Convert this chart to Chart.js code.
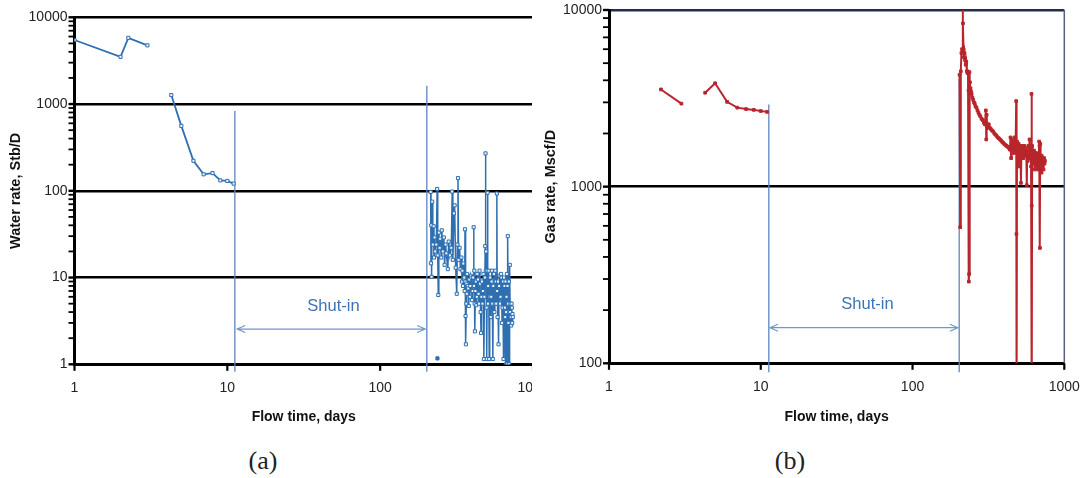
<!DOCTYPE html>
<html>
<head>
<meta charset="utf-8">
<script src="https://cdn.jsdelivr.net/npm/chart.js@4.4.1/dist/chart.umd.min.js"></script>
<style>
  body { margin: 0; background: #fff; width: 1081px; height: 478px; position: relative; overflow: hidden; }
  #wrapA { position: absolute; left: 0; top: 0; width: 532px; height: 440px; overflow: hidden; }
  #wrapB { position: absolute; left: 536px; top: 0; width: 545px; height: 440px; }
  .cap { position: absolute; top: 446px; font-family: "Liberation Serif", "Times New Roman", serif; font-size: 26px; line-height: 30px; color: #222; transform: translateX(-50%); }
</style>
</head>
<body>
<div id="wrapA"><canvas id="chartA" width="560" height="440" style="width:560px;height:440px"></canvas></div>
<div id="wrapB"><canvas id="chartB" width="545" height="440" style="width:545px;height:440px"></canvas></div>
<div class="cap" style="left:263px">(a)</div>
<div class="cap" style="left:790px">(b)</div>
<script>
// (a) water rate, Stb/D vs flow time, days
const waterDays1 = [1, 2, 2.25, 3];
const waterRate1 = [5470, 3500, 5800, 4750];
const waterDays2 = [4.3, 5, 6, 7, 8, 9, 10, 11];
const waterRate2 = [1270, 560, 222, 155, 160, 132, 130, 121];
const waterDays3 = [214,215,216,217,219,221,224,225,227,229,233,236,238,240,242,245,247,251,253,257,
  261,264,268,271,277,281,286,292,296,299,304,307,312,317,320,323,326,331,335,
  340,343,345,348,350,353,355,357,359,361,362,364,366,367,369,371,374,377,380,383,
  386,389,392,395,399,403,406,409,411,413,415,417,420,423,426,429,432,436,440,443,
  447,450,454,457,460,463,467,470,474,477,481,484,487,489,491,494,497,499,502,504,
  507,509,513,517,521,525,529,533,536,538,542,546,550,555,559,563,567,571,575,580,
  583,586,590,595,600,604,608,613,618,623,627,632,636,641,646,651,655,658,661,664,
  668,671,675,678,681,684,688,691,695,698,701,705,709,712,716,720,724,727,731,734,738];
const waterRate3 = [97,14.6,40,10.2,75,24,39,17,29,20,24,105,18,6.3,33,22,28,17,35,20,
  29,14,24,19,12.5,26,18,22,98,16,55,68,13,6.5,24,140,16,22,12.5,
  17,9,12,8,14.5,9.5,10,7,36,9,3.6,1.7,5,8.5,6.5,11,8,7.5,4.7,9.5,
  6,8,10.5,10,5.5,7,10,38,8,12,5,2.4,7,9,4.8,6,11,9.5,6.5,5,
  12,8.5,4,2.3,6,9,5,7,11,1.15,6,10,23,270,12,20,4.5,1.15,12,95,
  5,8,12,1.15,6,10,3.5,6,9,12,5,1.15,8,11,4,5,12,9,5,93,
  7,3.5,9,1.7,8,10.5,5,6,11,10,3,4.5,9,1.15,10,8,4.5,3.5,9,1.0,
  4,6,11,1.0,8,30,5,3,9,1.0,4,14,4,5,3.5,2.8,5,4.5,3,3.8,3.5];
const waterLoneDay = [237];
const waterLoneRate = [1.17];

// (b) gas rate, Mscf/D vs flow time, days
const gasDays1 = [2.2, 3];
const gasRate1 = [3550, 2950];
const gasDays2 = [4.3, 5, 6, 7, 8, 9, 10, 11];
const gasRate2 = [3400, 3850, 3020, 2800, 2750, 2720, 2680, 2650];
const gasDays3 = [204,206,208,210,212,214,215,217,218,220,222,224,226,228,230,232,234,235,236,237,
  239,241,243,245,248,251,254,257,260,264,268,272,276,280,285,290,295,300,304,306,
  308,310,314,318,323,328,334,340,346,352,358,364,370,377,384,390,396,403,410,417,
  424,431,438,442,446,450,455,461,466,470,474,478,482,484,486,488,492,497,500,505,
  510,514,518,522,527,532,537,542,547,552,557,562,566,570,575,580,585,590,595,600,
  604,608,610,612,614,618,622,627,632,637,642,648,653,658,663,668,673,678,683,687,
  691,694,698,703,708,713,718,724,730,736,741,745];
const gasRate3 = [4300,590,4500,5700,6000,12000,8400,6000,5400,5700,5200,4900,5100,4500,4400,4450,3500,290,320,4450,
  3900,3600,3450,3350,3200,3100,3000,2950,2850,2800,2700,2620,2550,2500,2420,2380,2300,2250,2700,1850,
  2550,2200,2180,2250,2150,2120,2080,2050,2000,1970,1940,1900,1880,1850,1820,1790,1770,1740,1720,1700,
  1680,1660,1620,1900,1450,1850,1650,1800,1550,1900,1600,1750,3050,540,50,1800,1650,1300,1750,1600,
  1500,1700,1050,1650,1550,1700,1450,1600,1700,1500,1650,1550,1020,1600,1400,1700,1500,1850,1450,1600,
  1300,3350,780,50,1700,1450,1550,1350,1600,1250,1500,1400,1550,1300,1450,1250,1500,1350,1800,1700,
  450,1750,1350,1500,1200,1450,1350,1400,1250,1450,1350,1400];

// shut-in markers
const markerDaysA = [11.2, 202];
const markerTopsA = [830, 1620];
const markerFloorA = 0.82;
const markerDaysB = [11.3, 203];
const markerTopsB = [2920, 4050];
const markerFloorB = 89;

const xMajors = [1, 10, 100, 1000];
const yMajorsA = [1, 10, 100, 1000, 10000];
const yMajorsB = [100, 1000, 10000];
const minorSteps = [2, 3, 4, 5, 6, 7, 8, 9];

const FONT = '"Liberation Sans", Arial, Helvetica, sans-serif';
const BLUE = '#2d6fb1';
const RED = '#b8262c';
const LINE_BLUE = '#5b86be';
const CLEAR = 'rgba(0,0,0,0)';

const pts = (xs, ys) => xs.map((x, i) => ({x: x, y: ys[i]}));
const isDecade = v => Math.abs(Math.log10(v) - Math.round(Math.log10(v))) < 1e-9;

function logTicks(majors) {
  const out = [];
  majors.forEach((m, i) => {
    out.push({value: m});
    if (i < majors.length - 1) minorSteps.forEach(s => out.push({value: m * s}));
  });
  return out;
}

// outside tick marks, placed through the chart's own scales
const tickMarksPlugin = {
  id: 'tickMarks',
  afterDraw(chart, args, o) {
    const {ctx, scales: {x, y}, chartArea} = chart;
    ctx.save();
    ctx.strokeStyle = '#000';
    logTicks(o.yMajors).forEach(t => {
      const py = y.getPixelForValue(t.value);
      ctx.lineWidth = isDecade(t.value) ? 2.4 : 1.8;
      ctx.beginPath();
      ctx.moveTo(chartArea.left - 6, py);
      ctx.lineTo(chartArea.left, py);
      ctx.stroke();
    });
    ctx.lineWidth = 2.2;
    xMajors.forEach(v => {
      const px = x.getPixelForValue(v);
      ctx.beginPath();
      ctx.moveTo(px, chartArea.bottom);
      ctx.lineTo(px, chartArea.bottom + 6.5);
      ctx.stroke();
    });
    ctx.restore();
  }
};

const shutInPlugin = {
  id: 'shutIn',
  afterDatasetsDraw(chart, args, o) {
    const {ctx, scales: {x, y}, chartArea} = chart;
    ctx.save();
    if (o.frame) {
      ctx.strokeStyle = '#5a6180';
      ctx.lineWidth = 1.5;
      ctx.beginPath();
      ctx.moveTo(chartArea.right, chartArea.top);
      ctx.lineTo(chartArea.right, chartArea.bottom);
      ctx.stroke();
    }
    const x1 = x.getPixelForValue(o.from), x2 = x.getPixelForValue(o.to), yy = y.getPixelForValue(o.level);
    ctx.strokeStyle = '#7098c9';
    ctx.lineWidth = 1.2;
    ctx.beginPath();
    ctx.moveTo(x1, yy); ctx.lineTo(x2, yy);
    ctx.moveTo(x1 + 8, yy - 3.5); ctx.lineTo(x1, yy); ctx.lineTo(x1 + 8, yy + 3.5);
    ctx.moveTo(x2 - 8, yy - 3.5); ctx.lineTo(x2, yy); ctx.lineTo(x2 - 8, yy + 3.5);
    ctx.stroke();
    ctx.fillStyle = '#3e73b3';
    ctx.font = '16.5px ' + FONT;
    ctx.textAlign = 'center';
    ctx.textBaseline = 'middle';
    ctx.fillText(o.label, x.getPixelForValue(o.labelDay), y.getPixelForValue(o.labelRate));
    ctx.restore();
  }
};

function seriesSet(color, hollow, width, radius) {
  return {
    type: 'line', borderColor: color, borderWidth: width,
    pointStyle: 'rect', pointRadius: radius, pointBorderWidth: 1,
    pointBackgroundColor: hollow ? '#eef4fb' : color, pointBorderColor: color,
    tension: 0, spanGaps: false
  };
}

function markerSets(days, tops, floor) {
  return days.map((d, i) => ({
    type: 'line', data: [{x: d, y: floor}, {x: d, y: tops[i]}],
    borderColor: LINE_BLUE, borderWidth: 1.3, pointRadius: 0, clip: false
  }));
}

function makeOptions(p) {
  return {
    responsive: false, animation: false, events: [],
    layout: {padding: {left: 0, top: p.top, right: p.right, bottom: 0}},
    plugins: {legend: {display: false}, tooltip: {enabled: false}, shutIn: p.shutIn,
      tickMarks: {yMajors: p.yMajors}},
    scales: {
      x: {
        type: 'logarithmic', min: 1, max: 1000,
        afterBuildTicks: s => { s.ticks = xMajors.map(v => ({value: v})); },
        afterFit: s => { s.height = p.xHeight; },
        grid: {drawOnChartArea: false, drawTicks: true, tickLength: 15, tickColor: CLEAR},
        border: {color: '#000', width: 3},
        ticks: {autoSkip: false, source: 'ticks', maxRotation: 0, padding: 0, color: '#222',
          font: {family: FONT, size: 14}, callback: v => String(v)},
        title: {display: true, text: 'Flow time, days', color: '#111',
          font: {family: FONT, size: 14, weight: 'bold'}, padding: {top: 0, bottom: 14.6}}
      },
      y: {
        type: 'logarithmic', min: p.yMajors[0], max: p.yMajors[p.yMajors.length - 1],
        afterBuildTicks: s => { s.ticks = logTicks(p.yMajors); },
        afterFit: s => { s.width = p.yWidth; },
        grid: {
          drawTicks: true, tickLength: 7, tickColor: CLEAR,
          color: c => c.tick && isDecade(c.tick.value) ? (c.tick.value === 10000 && p.topColor ? p.topColor : '#000') : CLEAR,
          lineWidth: c => c.tick && isDecade(c.tick.value) ? 2.6 : 1
        },
        border: {color: '#000', width: 3},
        ticks: {autoSkip: false, source: 'ticks', padding: 0, color: '#222', font: {family: FONT, size: 14},
          callback: v => isDecade(v) ? String(v) : ''},
        title: {display: true, text: p.yTitle, color: '#111',
          font: {family: FONT, size: 14.5, weight: 'bold'}, padding: {top: p.titlePad, bottom: 0}}
      }
    }
  };
}

new Chart(document.getElementById('chartA'), {
  type: 'line',
  data: {
    datasets: [
      Object.assign(seriesSet(BLUE, true, 1.8, 2.2), {data: pts(waterDays1, waterRate1)}),
      Object.assign(seriesSet(BLUE, true, 1.8, 2.2), {data: pts(waterDays2, waterRate2)}),
      Object.assign(seriesSet(BLUE, true, 1.5, 2.2), {data: pts(waterDays3, waterRate3)}),
      Object.assign(seriesSet(BLUE, false, 1.5, 2.2), {data: pts(waterLoneDay, waterLoneRate)})
    ].concat(markerSets(markerDaysA, markerTopsA, markerFloorA))
  },
  options: makeOptions({
    top: 17.3, right: 27, xHeight: 75.7, yWidth: 74.5, titlePad: 7.3,
    yMajors: yMajorsA, yTitle: 'Water rate, Stb/D', topColor: null,
    shutIn: {from: 11.6, to: 197, level: 2.55, label: 'Shut-in', labelDay: 49.5, labelRate: 4.7, frame: false}
  }),
  plugins: [shutInPlugin, tickMarksPlugin]
});

new Chart(document.getElementById('chartB'), {
  type: 'line',
  data: {
    datasets: [
      Object.assign(seriesSet(RED, false, 2, 1.9), {data: pts(gasDays1, gasRate1)}),
      Object.assign(seriesSet(RED, false, 2, 1.9), {data: pts(gasDays2, gasRate2)}),
      Object.assign(seriesSet(RED, false, 2, 1.9), {data: pts(gasDays3, gasRate3)})
    ].concat(markerSets(markerDaysB, markerTopsB, markerFloorB))
  },
  options: makeOptions({
    top: 10, right: 16.7, xHeight: 76.7, yWidth: 73, titlePad: 6.3,
    yMajors: yMajorsB, yTitle: 'Gas rate, Mscf/D', topColor: '#262d48',
    shutIn: {from: 11.5, to: 199, level: 159, label: 'Shut-in', labelDay: 50.5, labelRate: 216, frame: true}
  }),
  plugins: [shutInPlugin, tickMarksPlugin]
});
</script>
</body>
</html>
